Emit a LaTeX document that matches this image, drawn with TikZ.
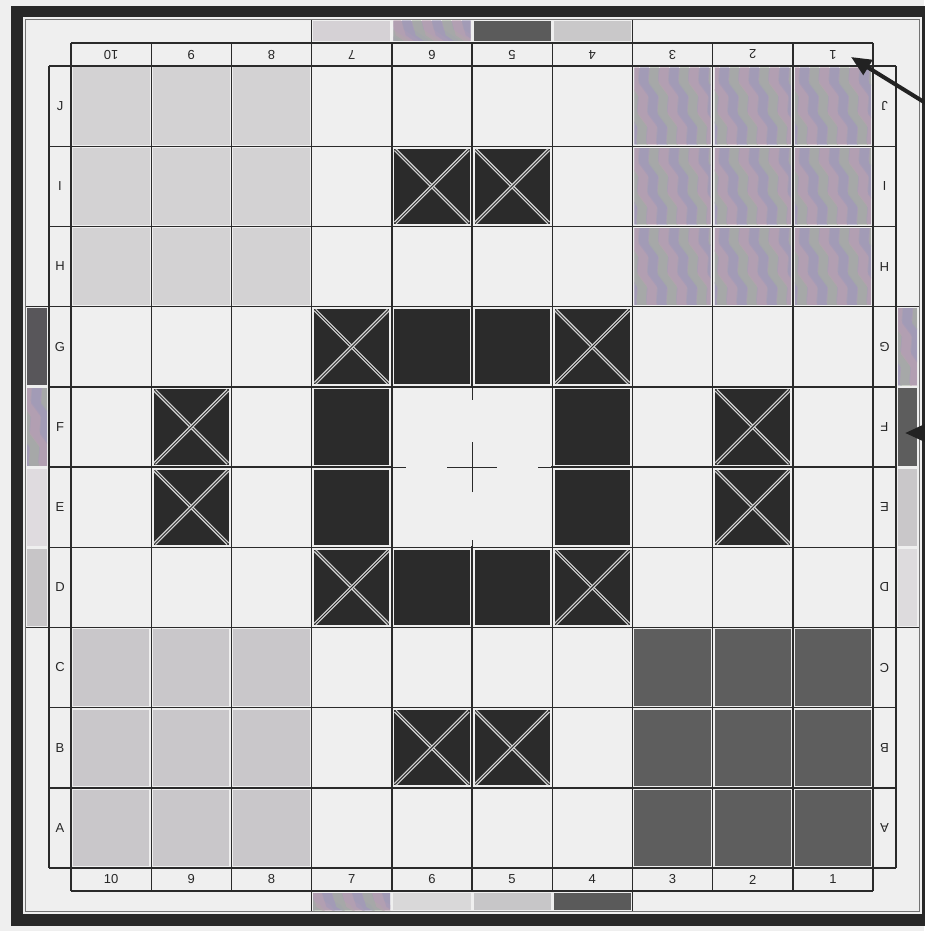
\documentclass[tikz,border=0pt]{standalone}
\usepackage{fontspec}
\setmainfont{Liberation Sans}
\usetikzlibrary{arrows.meta,decorations.pathmorphing}
\definecolor{bgc}{HTML}{EFEFEF}
\definecolor{gridc}{HTML}{2A2A2A}
\definecolor{blk}{HTML}{2B2B2B}
\definecolor{xlight}{HTML}{D4D4D4}
\definecolor{ltg}{HTML}{D3D2D3}
\definecolor{mdg}{HTML}{C9C7CA}
\definecolor{dkg}{HTML}{5E5E5E}
\definecolor{iribase}{HTML}{A99FB3}
\definecolor{iri0}{HTML}{A4B19F}
\definecolor{iri1}{HTML}{BCA0B2}
\definecolor{iri2}{HTML}{9D98BA}
\definecolor{frmc}{HTML}{282828}
\definecolor{arrc}{HTML}{222222}
\definecolor{labc}{HTML}{262626}
\definecolor{swA}{HTML}{D5D1D5}
\definecolor{swB}{HTML}{5B5B5B}
\definecolor{swC}{HTML}{C9C8C9}
\definecolor{swD}{HTML}{D9D8D9}
\definecolor{swE}{HTML}{C7C6C8}
\definecolor{swF}{HTML}{5A5A5A}
\definecolor{swG}{HTML}{58565A}
\definecolor{swH}{HTML}{DFDBDF}
\definecolor{swI}{HTML}{C7C5C7}
\definecolor{swJ}{HTML}{5D5D5D}
\definecolor{swK}{HTML}{C9C7C9}
\definecolor{swL}{HTML}{DDDBDD}
\def\gx{71}
\def\gy{66}
\def\gc{80.2}
\newcommand\iripatch[4]{%
  \begin{scope}
    \clip (#1,#2) rectangle ++(#3,#4);
    \fill[iribase] (#1,#2) rectangle ++(#3,#4);
    \foreach \k in {0,...,12}{%
      \pgfmathtruncatemacro\m{mod(\k,3)}%
      \draw[color=iri\m, opacity=0.5, line width=9pt, decorate,
            decoration={zigzag,segment length=32pt,amplitude=3pt}]
        ({#1-45+\k*10},{#2-10}) -- ++(28,{#4+20});
    }
  \end{scope}}
\newcommand\swatch[5]{\fill[#5] (#1,#2) rectangle ++(#3,#4);}
\newcommand\xcell[2]{%
  \fill[blk] ({\gx+#1*\gc+2.5},{\gy+#2*\gc+2.5}) rectangle ++({\gc-5},{\gc-5});
  \draw[xl] ({\gx+#1*\gc+3.5},{\gy+#2*\gc+3.5}) -- ++({\gc-7},{\gc-7});
  \draw[xl] ({\gx+#1*\gc+\gc-3.5},{\gy+#2*\gc+3.5}) -- ++({-\gc+7},{\gc-7});}
\newcommand\bcell[2]{%
  \fill[blk] ({\gx+#1*\gc+2.5},{\gy+#2*\gc+2.5}) rectangle ++({\gc-5},{\gc-5});}
\begin{document}
\begin{tikzpicture}[x=1pt,y=-1pt,
  gl/.style={draw=gridc, line width=1.4pt},
  xl/.style={draw=xlight, line width=1.3pt, double=blk, double distance=0.9pt},
  lab/.style={text=labc, font=\fontsize{13}{13}\selectfont, inner sep=0pt},
  arr/.style={draw=arrc, line width=4pt, -{Triangle[length=20pt,width=17pt]}},
  frm/.style={draw=frmc, line width=11.5pt}]
\useasboundingbox (0,0) rectangle (924,931);
\fill[bgc] (0,0) rectangle (924,931);
% corner blocks
\foreach \c in {0,1,2}{\foreach \r in {0,1,2}{
  \fill[ltg] ({\gx+\c*\gc+1.5},{\gy+\r*\gc+1.5}) rectangle ++({\gc-3},{\gc-3});}}
\foreach \c in {0,1,2}{\foreach \r in {7,8,9}{
  \fill[mdg] ({\gx+\c*\gc+2},{\gy+\r*\gc+2}) rectangle ++({\gc-4},{\gc-4});}}
\foreach \c in {7,8,9}{\foreach \r in {7,8,9}{
  \fill[dkg] ({\gx+\c*\gc+2},{\gy+\r*\gc+2}) rectangle ++({\gc-4},{\gc-4});}}
\foreach \c in {7,8,9}{\foreach \r in {0,1,2}{
  \iripatch{\gx+\c*\gc+2}{\gy+\r*\gc+2}{\gc-4}{\gc-4}}}
% black cells
\foreach \c/\r in {4/3,5/3,3/4,6/4,3/5,6/5,4/6,5/6}{\bcell{\c}{\r}}
\foreach \c/\r in {4/1,5/1,3/3,6/3,1/4,1/5,8/4,8/5,3/6,6/6,4/8,5/8}{\xcell{\c}{\r}}
% swatches: top (cols 7,6,5,4)
\swatch{\gx+3*\gc+1.5}{21}{\gc-3}{20}{swA}
\iripatch{\gx+4*\gc+1.5}{21}{\gc-3}{20}
\swatch{\gx+5*\gc+1.5}{21}{\gc-3}{20}{swB}
\swatch{\gx+6*\gc+1.5}{21}{\gc-3}{20}{swC}
% bottom
\iripatch{\gx+3*\gc+1.5}{893}{\gc-3}{17}
\swatch{\gx+4*\gc+1.5}{893}{\gc-3}{17}{swD}
\swatch{\gx+5*\gc+1.5}{893}{\gc-3}{17}{swE}
\swatch{\gx+6*\gc+1.5}{893}{\gc-3}{17}{swF}
% left (rows G,F,E,D)
\swatch{27}{\gy+3*\gc+1.5}{20}{\gc-3}{swG}
\iripatch{27}{\gy+4*\gc+1.5}{20}{\gc-3}
\swatch{27}{\gy+5*\gc+1.5}{20}{\gc-3}{swH}
\swatch{27}{\gy+6*\gc+1.5}{20}{\gc-3}{swI}
% right
\iripatch{898}{\gy+3*\gc+1.5}{19}{\gc-3}
\swatch{898}{\gy+4*\gc+1.5}{19}{\gc-3}{swJ}
\swatch{898}{\gy+5*\gc+1.5}{19}{\gc-3}{swK}
\swatch{898}{\gy+6*\gc+1.5}{19}{\gc-3}{swL}
% grid lines incl. label strips
\foreach \i in {0,...,10}{
  \draw[gl] ({\gx+\i*\gc},43) -- ({\gx+\i*\gc},891);
  \draw[gl] (49,{\gy+\i*\gc}) -- (896,{\gy+\i*\gc});}
\draw[gl] (\gx,43) -- ({\gx+10*\gc},43);
\draw[gl] (\gx,891) -- ({\gx+10*\gc},891);
\draw[gl] (49,\gy) -- (49,{\gy+10*\gc});
\draw[gl] (896,\gy) -- (896,{\gy+10*\gc});
% swatch strip boundary lines
\foreach \i in {3,7}{
  \draw[gl] ({\gx+\i*\gc},19.5) -- ({\gx+\i*\gc},43);
  \draw[gl] ({\gx+\i*\gc},891) -- ({\gx+\i*\gc},911.5);
  \draw[gl] (25,{\gy+\i*\gc}) -- (49,{\gy+\i*\gc});
  \draw[gl] (896,{\gy+\i*\gc}) -- (919.5,{\gy+\i*\gc});}
% centre white area with stubs and cross
\fill[bgc] ({\gx+4*\gc+1},{\gy+4*\gc+1}) rectangle ({\gx+6*\gc-1},{\gy+6*\gc-1});
\coordinate (cen) at ({\gx+5*\gc},{\gy+5*\gc});
\draw[gl,line width=1pt] ({\gx+5*\gc},{\gy+4*\gc}) -- ++(0,13);
\draw[gl,line width=1pt] ({\gx+5*\gc},{\gy+6*\gc}) -- ++(0,-7);
\draw[gl,line width=1pt] ({\gx+4*\gc},{\gy+5*\gc}) -- ++(14,0);
\draw[gl,line width=1pt] ({\gx+6*\gc},{\gy+5*\gc}) -- ++(-14,0);
\draw[gl,line width=0.9pt] ([xshift=-25pt]cen) -- ([xshift=25pt]cen);
\draw[gl,line width=0.9pt] ([yshift=-25pt]cen) -- ([yshift=25pt]cen);
% labels
\foreach \r/\l in {0/J,1/I,2/H,3/G,4/F,5/E,6/D,7/C,8/B,9/A}{
  \node[lab] (L\l) at (60,{\gy+(\r+0.5)*\gc}) {\l};
  \node[lab,rotate=180] (R\l) at (884.5,{\gy+(\r+0.5)*\gc}) {\l};}
\foreach \c/\n in {0/10,1/9,2/8,3/7,4/6,5/5,6/4,7/3,8/2,9/1}{
  \node[lab] (B\n) at ({\gx+(\c+0.5)*\gc},879.5) {\n};
  \node[lab,rotate=180] (T\n) at ({\gx+(\c+0.5)*\gc},54.5) {\n};}
% frame
\draw[frm] (16.75,11.75) rectangle (927.5,920);
\draw[draw=black!55, line width=0.7pt] (25,19.5) rectangle (919.5,911.5);
% arrows
\coordinate (a1s) at (945,115);
\coordinate (a1e) at (851,57);
\draw[arr] (a1s) -- (a1e);
\coordinate (a2s) at (945,433);
\coordinate (a2e) at (905,433);
\draw[arr] (a2s) -- (a2e);
\end{tikzpicture}
\end{document}
